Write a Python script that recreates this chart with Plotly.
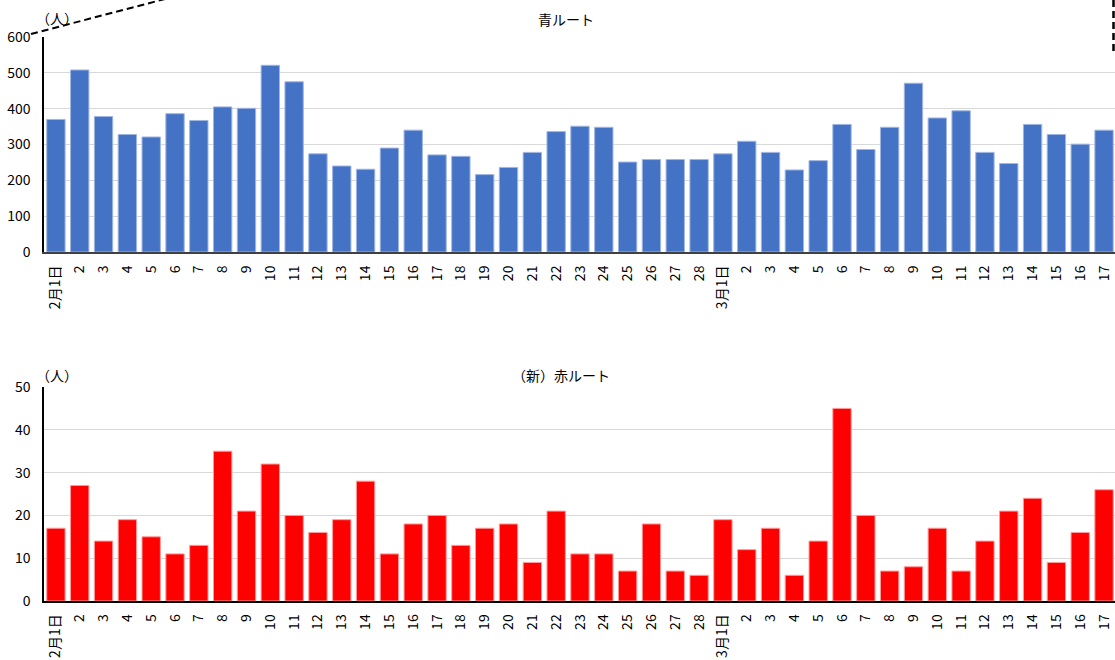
import plotly.graph_objects as go

# ---- data ----
day_labels = (["2月1日"] + [str(d) for d in range(2, 29)] +
              ["3月1日"] + [str(d) for d in range(2, 18)])

blue_route = [370, 508, 378, 328, 321, 386, 367, 405, 401, 521,
              475, 274, 240, 231, 290, 340, 271, 267, 216, 236,
              278, 336, 351, 348, 251, 258, 258, 258, 274, 309,
              278, 229, 255, 356, 286, 348, 471, 374, 394, 278,
              247, 356, 328, 301, 340]

red_route = [17, 27, 14, 19, 15, 11, 13, 35, 21, 32,
             20, 16, 19, 28, 11, 18, 20, 13, 17, 18,
             9, 21, 11, 11, 7, 18, 7, 6, 19, 12,
             17, 6, 14, 45, 20, 7, 8, 17, 7, 14,
             21, 24, 9, 16, 26]

blue_ticks = [0, 100, 200, 300, 400, 500, 600]
red_ticks = [0, 10, 20, 30, 40, 50]

titles = ["青ルート", "（新）赤ルート"]
unit_label = "（人）"

# ---- figure ----
W, H = 1115, 660
xs = list(range(len(day_labels)))
FONT = "Noto Sans CJK JP"

fig = go.Figure()
fig.add_trace(go.Bar(x=xs, y=blue_route, xaxis="x", yaxis="y",
                     marker=dict(color="#4472C4", line=dict(color="#9fb6e3", width=1)),
                     hoverinfo="skip"))
fig.add_trace(go.Bar(x=xs, y=red_route, xaxis="x2", yaxis="y2",
                     marker=dict(color="#FF0000", line=dict(color="#ff9a9a", width=1)),
                     hoverinfo="skip"))

def py(px_from_top):
    return (H - px_from_top) / H

def px(x):
    return x / W

x_left = px(44)
xr = [-0.5, 44.46]

xaxis_common = dict(
    type="linear", range=xr, tickmode="array", tickvals=xs, ticktext=day_labels,
    tickangle=-90, tickfont=dict(family=FONT, size=14, color="#000"),
    showgrid=False, zeroline=False, showline=True, ticks="", fixedrange=True,
    domain=[x_left, 1.0], ticklabelstandoff=6, automargin=False,
)
yaxis_common = dict(
    showgrid=True, gridcolor="#d9d9d9", gridwidth=1, zeroline=False,
    showline=True, linecolor="#000", linewidth=1.5, ticks="",
    tickfont=dict(family=FONT, size=14, color="#000"), ticklabelstandoff=9,
    fixedrange=True, automargin=False,
)

fig.update_layout(
    width=W, height=H, margin=dict(l=0, r=0, t=0, b=0, autoexpand=False),
    paper_bgcolor="white", plot_bgcolor="white", showlegend=False,
    bargap=0.23,
    font=dict(family=FONT, color="#000"),
    xaxis=dict(**xaxis_common, anchor="y", linecolor="#404040", linewidth=2),
    yaxis=dict(**yaxis_common, domain=[py(252), py(37)], range=[0, 600],
               tickvals=blue_ticks, anchor="x"),
    xaxis2=dict(**xaxis_common, anchor="y2", linecolor="#000", linewidth=1.5),
    yaxis2=dict(**yaxis_common, domain=[py(601), py(387)], range=[0, 50],
                tickvals=red_ticks, anchor="x2"),
)

annos = [
    dict(text=titles[0], x=px(566), y=py(19)),
    dict(text=titles[1], x=px(561), y=py(375)),
    dict(text=unit_label, x=px(57), y=py(18)),
    dict(text=unit_label, x=px(57), y=py(375)),
]
for a in annos:
    fig.add_annotation(xref="paper", yref="paper", showarrow=False,
                       xanchor="center", yanchor="middle",
                       font=dict(family=FONT, size=14, color="#000"), **a)

# callout frame fragments (dashed)
fig.add_shape(type="line", xref="paper", yref="paper",
              x0=px(31), y0=py(34), x1=px(165), y1=py(-1),
              line=dict(color="#000", width=2, dash="7px,4px"))
fig.add_shape(type="line", xref="paper", yref="paper",
              x0=px(1113.5), y0=py(0), x1=px(1113.5), y1=py(54),
              line=dict(color="#000", width=2.5, dash="7px,4px"))

fig.write_html("out.html")
